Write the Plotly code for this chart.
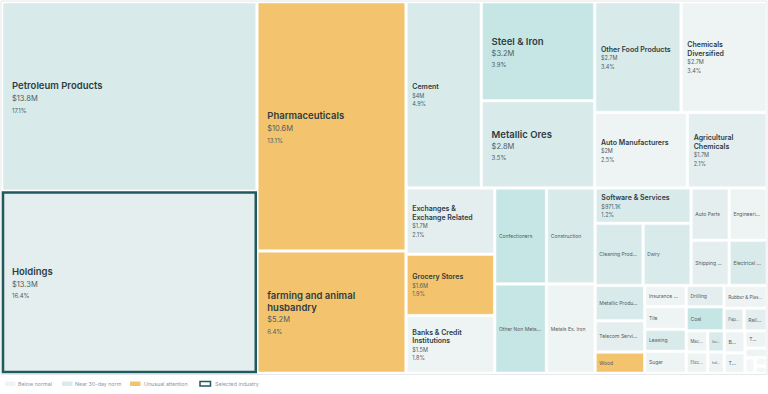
import plotly.graph_objects as go

# ---------------- data (values in $M, read from tile areas) ----------------
names = [
    "Petroleum Products", "Holdings", "Pharmaceuticals", "farming and animal husbandry",
    "Cement", "Steel & Iron", "Metallic Ores", "Other Food Products", "Chemicals Diversified",
    "Auto Manufacturers", "Agricultural Chemicals", "Exchanges & Exchange Related",
    "Grocery Stores", "Banks & Credit Institutions", "Confectioners", "Construction",
    "Other Non Meta...", "Metals Ex. Iron", "Software & Services", "Cleaning Prod...",
    "Dairy", "Auto Parts", "Engineeri...", "Shipping ...", "Electrical ...",
    "Metallic Produ...", "Telecom Servi...", "Wood", "Insurance ...", "Tile", "Leasing",
    "Sugar", "Drilling", "Coal", "Rubber & Plas...", "Pap...", "Rail...", "Mac...",
    "Inv...", "Elec...", "Ind...", "B...", "T...", "T...", "I", "", "", "",
]
display_names = [
    "Petroleum Products", "Holdings", "Pharmaceuticals", "farming and animal<br>husbandry",
    "Cement", "Steel & Iron", "Metallic Ores", "Other Food Products", "Chemicals<br>Diversified",
    "Auto Manufacturers", "Agricultural<br>Chemicals", "Exchanges &<br>Exchange Related",
    "Grocery Stores", "Banks & Credit<br>Institutions",
] + names[14:]
values_m = [
    13.8, 13.26, 10.6, 5.2,
    4.0, 3.2, 2.82, 2.73, 2.72, 2.0, 1.72,
    1.68, 1.55, 1.46, 1.42, 1.33, 1.32, 1.24,
    0.971, 0.85, 0.85, 0.57, 0.57, 0.49, 0.49,
    0.50, 0.443, 0.30, 0.25, 0.27, 0.26, 0.26,
    0.23, 0.26, 0.28, 0.13, 0.15,
    0.13, 0.10, 0.13, 0.10, 0.13, 0.12, 0.11, 0.06, 0.045, 0.03, 0.025,
]
value_labels = ["$13.8M", "$13.3M", "$10.6M", "$5.2M", "$4M", "$3.2M", "$2.8M", "$2.7M",
                "$2.7M", "$2M", "$1.7M", "$1.7M", "$1.6M", "$1.5M"] + [""] * 4 + ["$971.1K"]
pct_labels = ["17.1%", "16.4%", "13.1%", "6.4%", "4.9%", "3.9%", "3.5%", "3.4%",
              "3.4%", "2.5%", "2.1%", "2.1%", "1.9%", "1.8%"] + [""] * 4 + ["1.2%"]
status = [
    "near", "mid", "unusual", "unusual",
    "near", "teal", "near", "near", "below", "below", "mid",
    "mid", "unusual", "below", "teal", "near", "teal", "below",
    "near", "near", "near", "mid", "below", "mid", "near",
    "near", "mid", "unusual", "below", "below", "near", "below",
    "mid", "teal", "below", "mid", "mid",
    "below", "near", "below", "below", "below", "below", "below", "below", "faint", "faint", "faint",
]
tier = ["xl"] * 4 + ["m", "l", "l", "m", "m", "m", "m", "m", "m", "m"] + ["s"] * 4 + ["m"] + ["s"] * 29
selected = "Holdings"

legend_items = ["Below normal", "Near 30-day norm", "Unusual attention", "Selected industry"]

# ---------------- styling ----------------
fill = {"below": "#eef3f4", "faint": "#f4f7f8", "mid": "#e4eeee", "near": "#d8eaea",
        "teal": "#c6e6e5", "unusual": "#f3c46d"}
sel_color = "#1f5a5e"
dark = "#2e3c43"
soft = "#4f5d64"
FONT = "Inter"

value_labels += [""] * (len(names) - len(value_labels))
pct_labels += [""] * (len(names) - len(pct_labels))


def pad(px):
    # horizontal inset in front of each text line
    return f"<span style='font-size:{2 * px}px'>\u2002</span>"


templates, base_sizes = [], []
for nm, v, p, t in zip(display_names, value_labels, pct_labels, tier):
    if t in ("xl", "l"):
        ind = pad(6)
        lines = [f"<span style='font-size:9.5px;font-weight:600'>{x}</span>" for x in nm.split("<br>")]
        lines += [f"<span style='font-size:7.5px;color:{soft}'>{v}</span>",
                  f"<span style='font-size:6px;color:{soft}'>{p}</span>"]
        s = "<br>".join(ind + l for l in lines)
        base_sizes.append(9 if t == "xl" else 8.5)
    elif t == "m":
        ind = pad(2)
        lines = [f"<span style='font-size:7px;font-weight:600'>{x}</span>" for x in nm.split("<br>")]
        lines += [f"<span style='font-size:5.5px;color:{soft}'>{v}</span>",
                  f"<span style='font-size:5.5px;color:{soft}'>{p}</span>"]
        s = "<br>".join(ind + l for l in lines)
        base_sizes.append(6.5)
    else:
        s = f"<span style='font-size:5px;color:{soft}'>{nm}</span>" if nm else " "
        base_sizes.append(5)
    templates.append(s)

ids = [f"{n}#{i}" for i, n in enumerate(names)]
line_colors = [sel_color if n == selected else "white" for n in names]
line_widths = [2.5 if n == selected else 0.5 for n in names]

fig = go.Figure(go.Treemap(
    ids=ids,
    labels=names,
    parents=[""] * len(names),
    values=values_m,
    sort=False,
    texttemplate=templates,
    textposition="middle left",
    textfont=dict(family=FONT, size=base_sizes, color=dark),
    marker=dict(colors=[fill[s] for s in status],
                line=dict(color=line_colors, width=line_widths),
                cornerradius=3,
                pad=dict(t=0, l=0, r=0, b=0)),
    tiling=dict(packing="binary", pad=2.5),
    pathbar=dict(visible=False),
    hoverinfo="skip",
))

W, H = 768, 394
ML, MR, MT, MB = 3, 2, 3, 22
PW, PH = W - ML - MR, H - MT - MB


def px_x(x):
    return (x - ML) / PW


def px_y(y):
    return (H - MB - y) / PH


shapes = [dict(type="rect", xref="paper", yref="paper",
               x0=px_x(1), x1=px_x(767), y0=px_y(374.5), y1=px_y(1),
               line=dict(color="#e4e8e9", width=1), fillcolor="rgba(0,0,0,0)", layer="below")]
annotations = []
sw_x = [5, 62, 130, 200]
txt_x = [17, 74, 143, 214]
sw_fill = [fill["below"], fill["near"], fill["unusual"], "white"]
for i, item in enumerate(legend_items):
    shapes.append(dict(type="rect", xref="paper", yref="paper",
                       x0=px_x(sw_x[i]), x1=px_x(sw_x[i] + 10.5),
                       y0=px_y(386), y1=px_y(381.5),
                       fillcolor=sw_fill[i],
                       line=dict(color=sel_color if i == 3 else sw_fill[i], width=1.5 if i == 3 else 0)))
    annotations.append(dict(text=item, xref="paper", yref="paper", x=px_x(txt_x[i]), y=px_y(384),
                            xanchor="left", yanchor="middle", showarrow=False, borderpad=0,
                            font=dict(family=FONT, size=5.3, color="#8d979c")))

fig.update_layout(
    width=W, height=H,
    margin=dict(l=ML, r=MR, t=MT, b=MB),
    paper_bgcolor="white",
    font=dict(family=FONT),
    shapes=shapes,
    annotations=annotations,
    showlegend=False,
)

fig.write_html("out.html")
